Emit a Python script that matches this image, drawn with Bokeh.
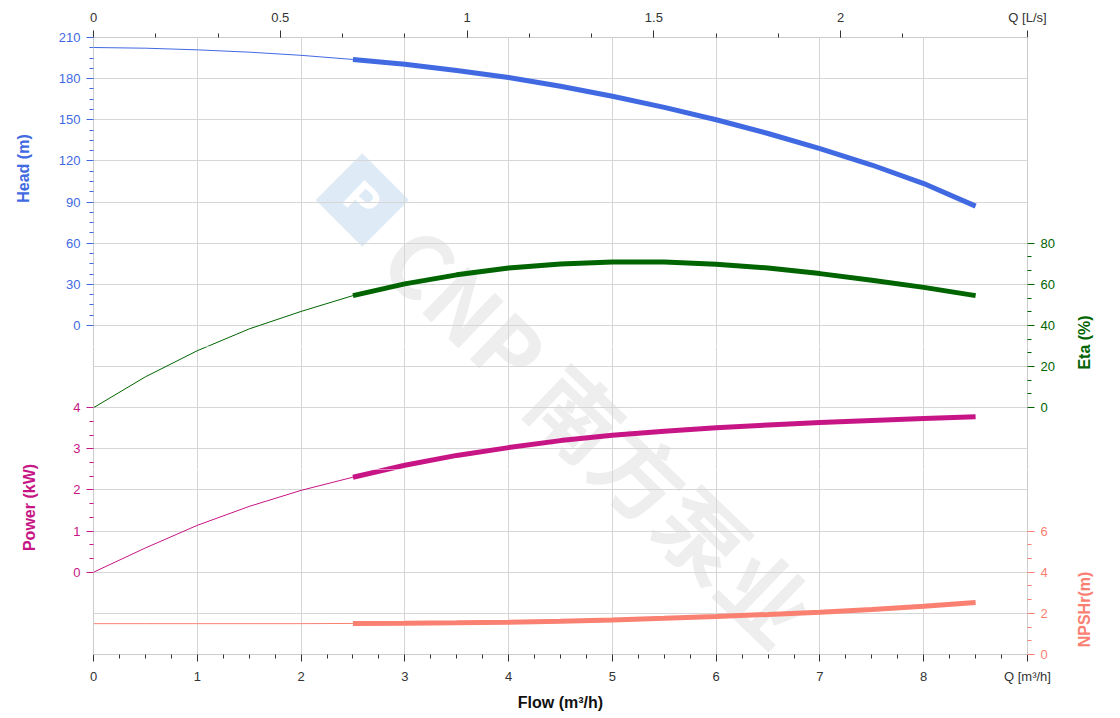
import math
from bokeh.plotting import figure
from bokeh.layouts import column, row
from bokeh.models import Range1d, LinearAxis, FixedTicker, Label, Div
from bokeh.embed import file_html
from bokeh.resources import INLINE

# ---- data ----
flow = [0, 0.5, 1, 1.5, 2, 2.5, 3, 3.5, 4, 4.5, 5, 5.5, 6, 6.5, 7, 7.5, 8, 8.5]
head = [202.7, 202.2, 201.0, 199.3, 197.0, 194.0, 190.5, 186.0, 180.8, 174.5,
        167.2, 159.0, 150.0, 140.0, 129.0, 117.0, 103.5, 87.0]
eta = [0, 15.0, 27.7, 38.3, 46.8, 54.5, 60.2, 64.6, 67.9, 69.9, 70.8, 70.9,
       69.8, 67.9, 65.2, 62.0, 58.5, 54.5]
power = [0, 0.59, 1.14, 1.6, 1.99, 2.31, 2.6, 2.84, 3.03, 3.2, 3.33, 3.43,
         3.51, 3.58, 3.64, 3.69, 3.74, 3.78]
npsh = [1.5, 1.5, 1.5, 1.5, 1.5, 1.51, 1.52, 1.54, 1.57, 1.62, 1.68, 1.76,
        1.85, 1.95, 2.06, 2.19, 2.35, 2.53]
op_start = 2.5  # start of the bold (operating) range

flow_ticks = [0, 1, 2, 3, 4, 5, 6, 7, 8, 9]
ls_ticks = [0, 0.5, 1, 1.5, 2, 2.5]
head_ticks = [0, 30, 60, 90, 120, 150, 180, 210]
eta_ticks = [0, 20, 40, 60, 80]
power_ticks = [0, 1, 2, 3, 4]
npsh_ticks = [0, 2, 4, 6]

HEAD_C = "#4169E1"
ETA_C = "#006400"
POW_C = "#C71585"
NPSH_C = "#FA8072"
FONT = "Liberation Sans"

# ---- layout constants (pixels) ----
FR_L, FR_T, FR_W, FR_H = 93, 37, 934, 617
N_GRID = 15                     # horizontal grid intervals
PXG = FR_H / N_GRID
TOTAL_W, TOTAL_H = 1108, 718
LEFT_W, RIGHT_W = 48, 44        # title strips
BORDER_L = FR_L - LEFT_W
BORDER_R = TOTAL_W - RIGHT_W - (FR_L + FR_W)
BORDER_B = TOTAL_H - FR_T - FR_H
cuts = [FR_T, 346, 469, FR_T + FR_H]   # bands, chosen between tick labels
WM_CX, WM_CY, WM_W, WM_H = 596, 428, 660, 110   # watermark box (page px)


def g_of(px):
    return (FR_T + FR_H - px) / PXG


# quantity value = offset + scale * grid_unit
qmap = {"head": (-240, 30), "eta": (-120, 20), "power": (-2, 1), "npsh": (0, 2)}


def minor(ticks, n):
    out = []
    for a, b in zip(ticks[:-1], ticks[1:]):
        for k in range(1, n):
            out.append(a + (b - a) * k / n)
    return out


def style(ax, color):
    ax.axis_line_color = "#cccccc"
    ax.major_tick_line_color = color
    ax.minor_tick_line_color = color
    ax.major_label_text_color = color
    ax.major_label_text_font = FONT
    ax.major_label_text_font_size = "13px"
    ax.major_tick_out = 7
    ax.major_tick_in = 0
    ax.minor_tick_out = 4
    ax.minor_tick_in = 0
    ax.major_label_standoff = 6


def yaxis(name, ticks, nsub, color):
    ax = LinearAxis(y_range_name=name,
                    ticker=FixedTicker(ticks=ticks, minor_ticks=minor(ticks, nsub)))
    style(ax, color)
    return ax


xr = Range1d(0, 9)
i0 = flow.index(op_start)
bands = []
for b in range(3):
    top, bot = cuts[b], cuts[b + 1]
    glo, ghi = g_of(bot), g_of(top)
    f = figure(frame_width=FR_W, frame_height=bot - top, x_range=xr,
               y_range=Range1d(glo, ghi),
               x_axis_location=None, y_axis_location=None,
               output_backend="svg", toolbar_location=None,
               min_border_left=BORDER_L, min_border_right=BORDER_R,
               min_border_top=FR_T if b == 0 else 0,
               min_border_bottom=BORDER_B if b == 2 else 0)
    f.outline_line_color = None
    f.background_fill_alpha = 0
    f.border_fill_alpha = 0
    f.extra_y_ranges = {k: Range1d(o + s * glo, o + s * ghi) for k, (o, s) in qmap.items()}
    f.extra_x_ranges = {"ls": Range1d(0, 2.5)}
    f.xgrid.ticker = FixedTicker(ticks=flow_ticks)
    f.ygrid.ticker = FixedTicker(ticks=list(range(N_GRID + 1)))
    for g in (f.xgrid, f.ygrid):
        g.grid_line_color = "#d6d6d6"

    if b == 0:
        f.scatter([2.59], [11.05], marker="square", size=66, angle=math.pi / 4,
                  fill_color="#deebf7", line_color=None, level="image")
        f.add_layout(Label(x=2.59, y=11.05, text="P", angle=-0.76, text_align="center",
                           text_baseline="middle", text_font=FONT, text_font_style="bold",
                           text_font_size="46px", text_color="white", level="image"))
        xt = LinearAxis(x_range_name="ls",
                        ticker=FixedTicker(ticks=ls_ticks, minor_ticks=[k / 6 for k in range(14)]),
                        major_label_overrides={2.5: "Q [L/s]"})
        style(xt, "#333333")
        xt.major_label_standoff = 6
        f.add_layout(xt, "above")
        f.add_layout(yaxis("head", head_ticks, 4, HEAD_C), "left")
        f.add_layout(yaxis("eta", eta_ticks, 3, ETA_C), "right")
    elif b == 1:
        f.add_layout(yaxis("power", power_ticks, 3, POW_C), "left")
        f.add_layout(yaxis("eta", eta_ticks, 3, ETA_C), "right")
    else:
        f.add_layout(yaxis("power", power_ticks, 3, POW_C), "left")
        f.add_layout(yaxis("npsh", npsh_ticks, 3, NPSH_C), "right")
        xb = LinearAxis(ticker=FixedTicker(ticks=flow_ticks, minor_ticks=minor(flow_ticks, 4)),
                        major_label_overrides={9: "Q [m³/h]"},
                        axis_label="Flow (m³/h)")
        style(xb, "#333333")
        xb.major_label_standoff = 7
        xb.axis_label_standoff = 7
        xb.axis_label_text_font = FONT
        xb.axis_label_text_font_style = "bold"
        xb.axis_label_text_font_size = "16px"
        xb.axis_label_text_color = "#111111"
        f.add_layout(xb, "below")

    for vals, col, rng in ((head, HEAD_C, "head"), (eta, ETA_C, "eta"),
                           (power, POW_C, "power"), (npsh, NPSH_C, "npsh")):
        f.line(flow[:i0 + 1], vals[:i0 + 1], line_color=col, line_width=1, y_range_name=rng)
        f.line(flow[i0:], vals[i0:], line_color=col, line_width=5, y_range_name=rng)
    bands.append(f)


def strip(w, titles):
    s = figure(width=w, height=TOTAL_H, x_range=Range1d(0, w), y_range=Range1d(TOTAL_H, 0),
               x_axis_location=None, y_axis_location=None,
               output_backend="svg", toolbar_location=None,
               min_border_left=0, min_border_right=0, min_border_top=0, min_border_bottom=0)
    s.outline_line_color = None
    s.background_fill_alpha = 0
    s.border_fill_alpha = 0
    s.grid.visible = False
    for x, y, text, color in titles:
        s.add_layout(Label(x=x, y=y, text=text, angle=math.pi / 2, text_align="center",
                           text_baseline="middle", text_font=FONT, text_font_style="bold",
                           text_font_size="16px", text_color=color))
    return s


left = strip(LEFT_W, [(23, 168, "Head (m)", HEAD_C), (29, 507, "Power (kW)", POW_C)])
right = strip(RIGHT_W, [(20, 342, "Eta (%)", ETA_C), (20, 609, "NPSHr(m)", NPSH_C)])

# watermark behind the (transparent) plot bands
watermark = Div(text="CNP 南方泵业", width=WM_W, height=WM_H, styles={
    "position": "absolute", "left": f"{WM_CX - WM_W // 2}px", "top": f"{WM_CY - WM_H // 2}px",
    "width": f"{WM_W}px", "height": f"{WM_H}px", "z-index": "-1",
    "transform": "rotate(44deg)", "transform-origin": "50% 50%",
    "font-family": "'Noto Sans CJK SC'", "font-weight": "bold", "font-size": "88px",
    "line-height": f"{WM_H}px", "text-align": "center", "white-space": "nowrap",
    "color": "#eeeeee", "pointer-events": "none"})

layout = row(watermark, left, column(*bands, spacing=0), right, spacing=0)
open("out.html", "w").write(file_html(layout, INLINE))
